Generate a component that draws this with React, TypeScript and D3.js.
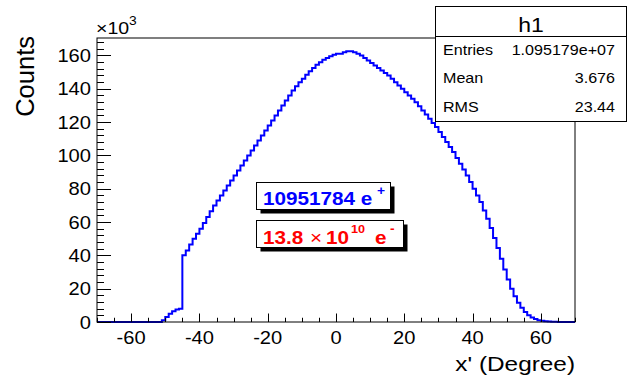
import React from "react";
import * as d3 from "d3";

// Histogram h1: counts (x10^3) per 1-degree bin from -70 to 70
const binLow = -70;
const binHigh = 70;
const countsK: number[] = [
  // -70 .. -52
  0, 0, 0, 0, 0, 0, 0, 0, 0, 0, 0, 0, 0, 0, 0, 0, 0, 0, 0,
  // -51 .. -46
  1, 3, 5, 6.5, 7.5, 8,
  // -45 .. -36
  40, 43, 46.5, 50, 53, 56, 59.5, 63, 66.5, 70,
  // -35 .. -26
  73, 76, 79, 82, 85, 88, 91, 94, 97, 100,
  // -25 .. -16
  103, 106, 109, 112, 115, 118, 121, 124, 127, 130,
  // -15 .. -6
  133, 136, 139, 141.5, 144, 146, 148.5, 150.5, 152.5, 154.5,
  // -5 .. 4
  156, 157.5, 158.5, 159.5, 160.5, 161, 161, 162, 162.5, 162.5,
  // 5 .. 14
  162, 161, 160, 158.5, 157, 155.5, 154, 152.5, 151, 149.5,
  // 15 .. 24
  148, 146, 144, 142, 140, 138, 136, 134, 132, 129.5,
  // 25 .. 34
  127, 124.5, 122, 119.5, 117, 114, 111, 108, 105, 102,
  // 35 .. 44
  98.5, 95, 91.5, 88, 84, 80, 76, 72, 67, 62,
  // 45 .. 54
  56.5, 50.5, 44.5, 38, 31.5, 25.5, 20, 15.5, 11.5, 8.5,
  // 55 .. 65
  6, 4, 2.7, 1.8, 1.1, 0.7, 0.4, 0.25, 0.15, 0.1, 0.05,
  // 66 .. 69
  0, 0, 0, 0,
];

const xMajorTicks = [-60, -40, -20, 0, 20, 40, 60];
const yMajorTicks = [0, 20, 40, 60, 80, 100, 120, 140, 160];
const yMax = 170.5;

const statsTitle = "h1";
const statsLabels = ["Entries", "Mean", "RMS"];
const statsValues = ["1.095179e+07", "3.676", "23.44"];

const xTitle = "x' (Degree)";
const yTitle = "Counts";

const W = 633;
const H = 383;
const FL = 97, FR = 575, FT = 38, FB = 322;
const FONT = "'Liberation Sans', Arial, Helvetica, sans-serif";
const SX = 1.15;

function T(props: {
  x: number; y: number; size: number; anchor?: string; fill?: string;
  weight?: string | number; sx?: number; children: React.ReactNode;
}) {
  const { x, y, size, anchor = "start", fill = "#000", weight = "normal", sx = SX } = props;
  return (
    <text
      transform={`translate(${x},${y}) scale(${sx},1)`}
      fontFamily={FONT}
      fontSize={size}
      textAnchor={anchor}
      fill={fill}
      fontWeight={weight}
    >
      {props.children}
    </text>
  );
}

export default function App() {
  const x = d3.scaleLinear().domain([binLow, binHigh]).range([FL, FR]);
  const y = d3.scaleLinear().domain([0, yMax]).range([FB, FT]);
  const nb = countsK.length;
  const bw = (binHigh - binLow) / nb;

  const pts: [number, number][] = countsK.map((v, i) => [binLow + i * bw, v]);
  pts.push([binHigh, countsK[nb - 1]]);
  const line = d3
    .line<[number, number]>()
    .x((d) => x(d[0]))
    .y((d) => y(d[1]))
    .curve(d3.curveStepAfter);

  const xMinor = d3.range(binLow, binHigh + 0.001, 5);
  const yMinor = d3.range(0, yMax, 4);

  const yTickLen = 14;
  const xTickLen = 8.5;

  return (
    <svg
      width={W}
      height={H}
      style={{ position: "absolute", left: 0, top: 0, background: "#fff" }}
    >
      <rect x={0} y={0} width={W} height={H} fill="#fff" />
      {/* histogram */}
      <path d={line(pts) || ""} fill="none" stroke="#0000ff" strokeWidth={2} />

      {/* frame */}
      <rect x={FL} y={FT} width={FR - FL} height={FB - FT} fill="none" stroke="#000" strokeWidth={1} />

      {/* y axis ticks */}
      {yMinor.map((t) => (
        <line key={"ym" + t} x1={FL} x2={FL + yTickLen / 2} y1={Math.round(y(t)) + 0.5} y2={Math.round(y(t)) + 0.5} stroke="#000" />
      ))}
      {yMajorTicks.map((t) => (
        <g key={"yM" + t}>
          <line x1={FL} x2={FL + yTickLen} y1={Math.round(y(t)) + 0.5} y2={Math.round(y(t)) + 0.5} stroke="#000" />
          <T x={91} y={y(t) + 6.5} size={17.5} anchor="end">{t}</T>
        </g>
      ))}

      {/* x axis ticks */}
      {xMinor.map((t) => (
        <line key={"xm" + t} x1={Math.round(x(t)) + 0.5} x2={Math.round(x(t)) + 0.5} y1={FB} y2={FB - xTickLen / 2} stroke="#000" />
      ))}
      {xMajorTicks.map((t) => (
        <g key={"xM" + t}>
          <line x1={Math.round(x(t)) + 0.5} x2={Math.round(x(t)) + 0.5} y1={FB} y2={FB - xTickLen} stroke="#000" />
          <T x={x(t)} y={343.5} size={17.5} anchor="middle">{t}</T>
        </g>
      ))}

      {/* exponent label */}
      <T x={96} y={34} size={17}>×10</T>
      <T x={129} y={25} size={12}>3</T>

      {/* axis titles */}
      <T x={575} y={371} size={21} sx={1.16} anchor="end">{xTitle}</T>
      <text
        transform={`translate(34,36) rotate(-90)`}
        fontFamily={FONT}
        fontSize={25.5}
        textAnchor="end"
      >
        {yTitle}
      </text>

      {/* stats box */}
      <rect x={435.5} y={6.5} width={191} height={115} fill="#fff" stroke="#000" />
      <line x1={435.5} x2={626.5} y1={36.5} y2={36.5} stroke="#000" />
      <T x={531} y={31.5} size={20} anchor="middle">{statsTitle}</T>
      {statsLabels.map((l, i) => (
        <g key={l}>
          <T x={443} y={55 + i * 28.3} size={14}>{l}</T>
          <T x={615} y={55 + i * 28.3} size={14} anchor="end">{statsValues[i]}</T>
        </g>
      ))}

      {/* text boxes with shadow */}
      <rect x={260.5} y={186.5} width={134} height={27} fill="#000" />
      <rect x={256.5} y={182.5} width={134} height={27} fill="#fff" stroke="#000" />
      <T x={263} y={204.5} size={18} fill="#0000ff" weight="bold">10951784 e</T>
      <T x={377} y={195} size={12} fill="#0000ff" weight="bold">+</T>

      <rect x={260.5} y={224.5} width={147} height={27} fill="#000" />
      <rect x={256.5} y={220.5} width={147} height={27} fill="#fff" stroke="#000" />
      <T x={263} y={244} size={18} fill="#ff0000" weight="bold">13.8</T>
      <T x={310} y={244} size={18} fill="#ff0000">×</T>
      <T x={326} y={244} size={18} fill="#ff0000" weight="bold">10</T>
      <T x={351} y={233} size={11} fill="#ff0000" weight="bold">10</T>
      <T x={375} y={244} size={18} fill="#ff0000" weight="bold">e</T>
      <T x={390} y={233} size={12} fill="#ff0000" weight="bold">-</T>
    </svg>
  );
}
